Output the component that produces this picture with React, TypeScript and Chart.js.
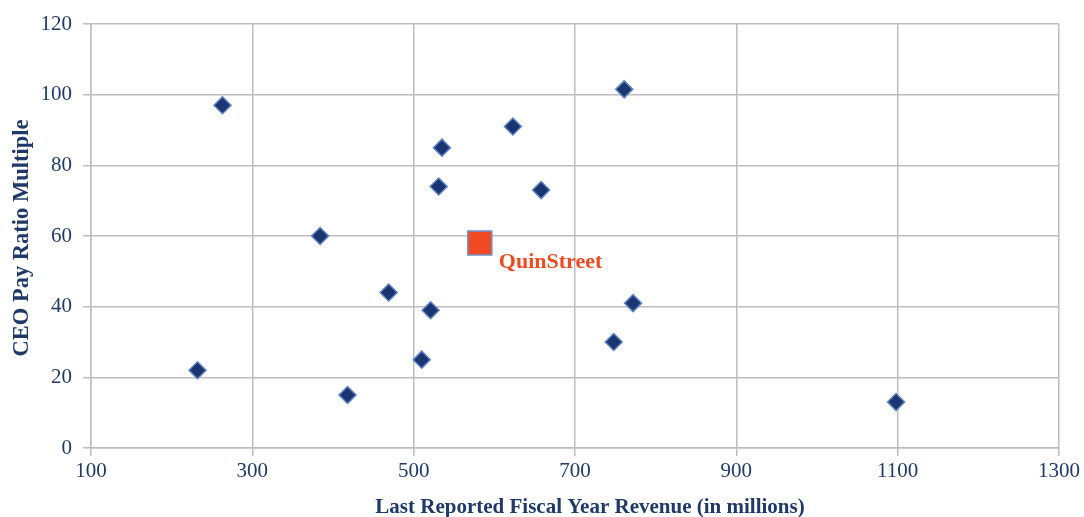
import React, { useEffect, useRef } from "react";
import { Chart, registerables } from "chart.js";

Chart.register(...registerables);

const revenue: number[] = [263, 232, 384, 418, 469, 510, 521, 531, 535, 623, 658, 761, 748, 772, 1098];
const payRatio: number[] = [97, 22, 60, 15, 44, 25, 39, 74, 85, 91, 73, 101.5, 30, 41, 13];
const focusName = "QuinStreet";
const focusRevenue: number[] = [582];
const focusRatio: number[] = [58];
const xTitle = "Last Reported Fiscal Year Revenue (in millions)";
const yTitle = "CEO Pay Ratio Multiple";

const NAVY = "#1F3A68";
const SERIF = "'Liberation Serif', 'Times New Roman', serif";

export default function App() {
  const ref = useRef<HTMLCanvasElement | null>(null);

  useEffect(() => {
    document.body.style.margin = "0";
    const canvas = ref.current;
    if (!canvas) return;

    const labelPlugin = {
      id: "extraText",
      afterDatasetsDraw(chart: any) {
        const ctx = chart.ctx;
        const area = chart.chartArea;
        ctx.save();
        const meta = chart.getDatasetMeta(1);
        const pt = meta.data[0];
        if (pt) {
          ctx.fillStyle = "#EE4B22";
          ctx.font = `bold 22px ${SERIF}`;
          ctx.textAlign = "left";
          ctx.textBaseline = "middle";
          ctx.fillText(focusName, pt.x + 19, pt.y + 19);
        }
        ctx.fillStyle = NAVY;
        ctx.font = `bold 21px ${SERIF}`;
        ctx.textAlign = "center";
        ctx.textBaseline = "middle";
        ctx.fillText(xTitle, (area.left + area.right) / 2 + 15, 508);
        ctx.font = `bold 22.5px ${SERIF}`;
        ctx.translate(22, (area.top + area.bottom) / 2 + 2);
        ctx.rotate(-Math.PI / 2);
        ctx.fillText(yTitle, 0, 0);
        ctx.restore();
      },
    };

    const chart = new Chart(canvas, {
      type: "scatter",
      data: {
        datasets: [
          {
            label: "Peers",
            data: revenue.map((x, i) => ({ x, y: payRatio[i] })),
            pointStyle: "rectRot",
            pointRadius: 8.5,
            pointHoverRadius: 8.5,
            backgroundColor: "#1B3570",
            borderColor: "#5B82C4",
            borderWidth: 1.5,
          },
          {
            label: focusName,
            data: focusRevenue.map((x, i) => ({ x, y: focusRatio[i] })),
            pointStyle: "rect",
            pointRadius: 17,
            pointHoverRadius: 17,
            backgroundColor: "#EF4A22",
            borderColor: "#6E93CF",
            borderWidth: 1.5,
          },
        ],
      },
      options: {
        responsive: false,
        animation: false,
        layout: { padding: { top: 24, right: 25, left: 0, bottom: 0 } },
        plugins: {
          legend: { display: false },
          tooltip: { enabled: false },
        },
        scales: {
          x: {
            type: "linear",
            min: 100,
            max: 1300,
            ticks: {
              stepSize: 200,
              color: NAVY,
              font: { family: SERIF, size: 21 },
              padding: 3,
              callback: (v: any) => String(v),
            },
            grid: {
              color: "#BDBDBD",
              lineWidth: 1.5,
              tickLength: 8,
            },
            border: { color: "#BDBDBD", width: 1.5 },
            afterFit(scale: any) {
              scale.height = 517 - 448;
            },
          },
          y: {
            type: "linear",
            min: 0,
            max: 120,
            ticks: {
              stepSize: 20,
              color: NAVY,
              font: { family: SERIF, size: 21 },
              padding: 11,
              callback: (v: any) => String(v),
            },
            grid: {
              color: "#BDBDBD",
              lineWidth: 1.5,
              tickLength: 8,
            },
            border: { color: "#BDBDBD", width: 1.5 },
            afterFit(scale: any) {
              scale.width = 91;
            },
          },
        },
      },
      plugins: [labelPlugin],
    });

    return () => chart.destroy();
  }, []);

  return (
    <div style={{ width: 1084, height: 517, background: "#fff" }}>
      <canvas ref={ref} width={1084} height={517} style={{ display: "block" }} />
    </div>
  );
}
